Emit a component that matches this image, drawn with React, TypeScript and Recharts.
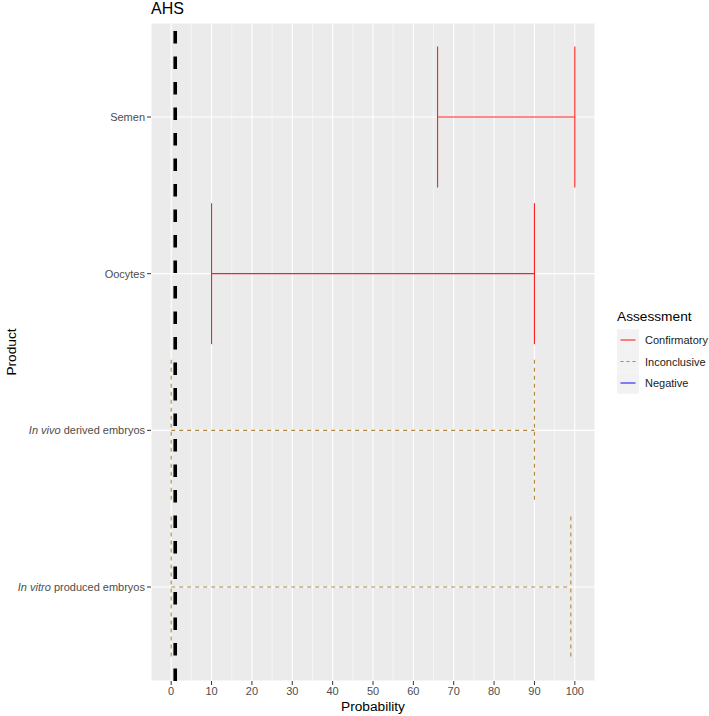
import React from "react";
import { ComposedChart, XAxis, YAxis, CartesianGrid, ReferenceLine } from "recharts";

const products = ["Semen", "Oocytes", "In vivo derived embryos", "In vitro produced embryos"];
const italicPrefix = ["", "", "In vivo", "In vitro"];
const lower = [66, 10, 0, 0];
const upper = [100, 90, 90, 99];
const assessment = ["Confirmatory", "Confirmatory", "Inconclusive", "Inconclusive"];
const legendItems = ["Confirmatory", "Inconclusive", "Negative"];
const xTicks = [0, 10, 20, 30, 40, 50, 60, 70, 80, 90, 100];
const xMinorTicks = [5, 15, 25, 35, 45, 55, 65, 75, 85, 95];
const yTicks = [1, 2, 3, 4];
const threshold = 1;
const titleText = "AHS";
const xTitle = "Probability";
const yTitle = "Product";
const legendTitle = "Assessment";

const FONT = "'Liberation Sans', Arial, sans-serif";
const COLORS: Record<string, string> = {
  Confirmatory: "#FF1F1F",
  Inconclusive: "#B0883F",
  Negative: "#1F1FFF",
};
const DASH: Record<string, string | undefined> = {
  Confirmatory: undefined,
  Inconclusive: "4 4",
  Negative: undefined,
};
const HALF = 0.45;

const chartData = products.map((p, i) => ({ pos: i + 1, lo: lower[i], hi: upper[i], name: p }));

const YTick = (props: any) => {
  const { x, y, payload } = props;
  const i = Math.round(payload.value) - 1;
  const name = products[i] ?? "";
  const pre = italicPrefix[i] ?? "";
  const rest = pre ? name.slice(pre.length) : name;
  return (
    <text x={x} y={y} dy={4} textAnchor="end" fontSize={11} fill="#4D4D4D" fontFamily={FONT}>
      {pre ? <tspan fontStyle="italic">{pre}</tspan> : null}
      <tspan>{rest}</tspan>
    </text>
  );
};

export default function App() {
  return (
    <div style={{ position: "fixed", left: 0, top: 0, width: 709, height: 716, fontFamily: FONT, background: "#fff" }}>
      <ComposedChart
        width={709}
        height={716}
        data={chartData}
        margin={{ top: 23, right: 114, bottom: 0, left: 0 }}
      >
        <CartesianGrid fill="#EBEBEB" stroke="#FFFFFF" strokeWidth={1.1} />
        <XAxis
          type="number"
          dataKey="lo"
          domain={[-5, 105]}
          ticks={xTicks}
          interval={0}
          allowDataOverflow
          axisLine={false}
          tickLine={{ stroke: "#333333" }}
          tickSize={4}
          tickMargin={2}
          height={35}
          tick={{ fill: "#4D4D4D", fontSize: 11, fontFamily: FONT }}
        />
        <YAxis
          type="number"
          dataKey="pos"
          domain={[0.4, 4.6]}
          ticks={yTicks}
          interval={0}
          reversed
          allowDataOverflow
          axisLine={false}
          tickLine={{ stroke: "#333333" }}
          tickSize={4}
          tickMargin={2}
          width={151}
          tick={<YTick />}
        />
        {xMinorTicks.map((v) => (
          <ReferenceLine key={"m" + v} x={v} stroke="#FFFFFF" strokeWidth={0.55} />
        ))}
        {chartData.map((d, i) => {
          const c = COLORS[assessment[i]];
          const dash = DASH[assessment[i]];
          return (
            <React.Fragment key={d.name}>
              <ReferenceLine
                segment={[{ x: d.lo, y: d.pos }, { x: d.hi, y: d.pos }]}
                stroke={c}
                strokeWidth={1.1}
                strokeDasharray={dash}
                ifOverflow="visible"
              />
              <ReferenceLine
                segment={[{ x: d.lo, y: d.pos - HALF }, { x: d.lo, y: d.pos + HALF }]}
                stroke={c}
                strokeWidth={1.1}
                strokeDasharray={dash}
                ifOverflow="visible"
              />
              <ReferenceLine
                segment={[{ x: d.hi, y: d.pos - HALF }, { x: d.hi, y: d.pos + HALF }]}
                stroke={c}
                strokeWidth={1.1}
                strokeDasharray={dash}
                ifOverflow="visible"
              />
            </React.Fragment>
          );
        })}
        <ReferenceLine
          segment={[{ x: threshold, y: 4.6 }, { x: threshold, y: 0.4 }]}
          stroke="#000000"
          strokeWidth={3.6}
          strokeDasharray="12.5 13"
          ifOverflow="visible"
        />
      </ComposedChart>
      <svg width={709} height={716} style={{ position: "absolute", left: 0, top: 0, pointerEvents: "none" }}>
        <text x={151} y={13.5} fontSize={16} fontFamily={FONT} fill="#000">{titleText}</text>
        <text x={373} y={711} textAnchor="middle" fontSize={13.7} fontFamily={FONT} fill="#000">{xTitle}</text>
        <text x={15.5} y={352} transform="rotate(-90 15.5 352)" textAnchor="middle" fontSize={13.7} fontFamily={FONT} fill="#000">
          {yTitle}
        </text>
        <g transform="translate(612 300)">
          <text x={5} y={21} fontSize={13.7} fontFamily={FONT} fill="#000">{legendTitle}</text>
          {legendItems.map((name, i) => {
            const cy = 40 + i * 21.5;
            return (
              <g key={name}>
                <rect x={5} y={cy - 10.75} width={22} height={21.5} fill="#F2F2F2" />
                <line x1={8.5} x2={23.5} y1={cy} y2={cy} stroke={COLORS[name]} strokeWidth={1.1} strokeDasharray={DASH[name] ? "3 3" : undefined} />
                <text x={33} y={cy + 4} fontSize={11} fontFamily={FONT} fill="#1A1A1A">{name}</text>
              </g>
            );
          })}
        </g>
      </svg>
    </div>
  );
}
